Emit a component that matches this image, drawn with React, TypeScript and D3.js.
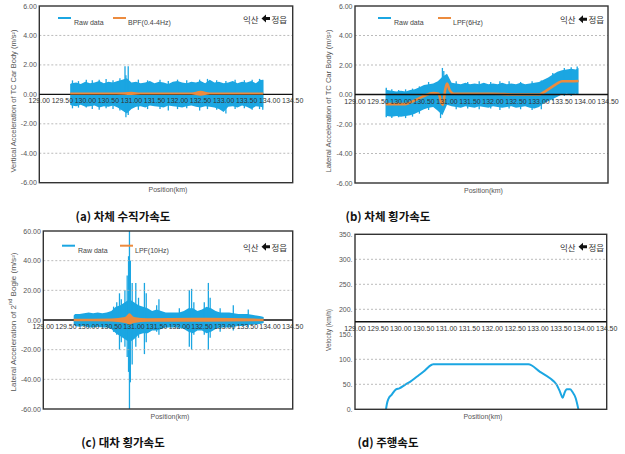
import React from 'react';
import * as d3 from 'd3';

const W = 625;
const H = 454;

// x axis (km)
const xTicks = [129.0, 129.5, 130.0, 130.5, 131.0, 131.5, 132.0, 132.5, 133.0, 133.5, 134.0, 134.5];
const accTicks = [-6, -4, -2, 0, 2, 4, 6];
const bogieTicks = [-60, -40, -20, 0, 20, 40, 60];
const velTicks = [0, 50, 100, 150, 200, 250, 300, 350];

// raw-data envelopes, read at these positions
const envKm = [129.67, 129.7, 129.8, 129.9, 130.0, 130.1, 130.2, 130.3, 130.4, 130.5, 130.6, 130.7, 130.8, 130.9, 131.0,
  131.1, 131.2, 131.3, 131.4, 131.5, 131.6, 131.7, 131.8, 131.9, 132.0, 132.1, 132.2, 132.3, 132.4, 132.5, 132.6,
  132.7, 132.8, 132.9, 133.0, 133.1, 133.2, 133.3, 133.4, 133.5, 133.6, 133.7, 133.8, 133.86];

// (a) vertical acceleration, car body
const vertHi = [0.7, 0.75, 0.8, 0.7, 0.85, 0.75, 0.8, 0.9, 0.75, 0.85, 0.8, 0.9, 1.0, 1.1, 0.8, 0.85, 0.75, 0.8, 0.9, 0.75,
  0.85, 0.8, 0.7, 0.85, 0.9, 0.8, 0.75, 0.85, 0.8, 0.9, 0.75, 1.0, 0.8, 0.85, 0.75, 0.8, 0.9, 0.75, 0.85, 0.8, 0.9, 0.75, 1.0, 0.95];
const vertLo = [-0.7, -0.75, -0.8, -0.7, -0.85, -0.8, -0.75, -0.9, -0.8, -0.85, -0.75, -0.9, -1.1, -1.3, -1.0, -0.85, -0.8,
  -0.9, -0.75, -0.8, -0.85, -0.9, -0.75, -0.8, -0.85, -0.9, -0.8, -0.75, -0.85, -0.9, -0.8, -0.85, -0.9, -1.0, -1.2, -0.85,
  -0.8, -0.9, -0.75, -0.85, -1.0, -0.8, -0.85, -0.9];
const vertSpikeKm = [129.72, 129.85, 130.02, 130.15, 130.3, 130.45, 130.6, 130.75, 130.86, 130.88, 130.93, 131.15, 131.35,
  131.62, 131.8, 132.0, 132.2, 132.48, 132.65, 132.85, 133.05, 133.25, 133.45, 133.62, 133.78, 133.85];
const vertSpikeHi = [0.95, 0.9, 1.0, 0.95, 1.0, 1.05, 0.95, 1.1, 1.9, 1.3, 1.9, 1.0, 0.95, 1.0, 0.9, 1.0, 0.95, 1.0, 1.05,
  0.95, 0.9, 1.0, 0.95, 1.0, 1.05, 1.0];
const vertSpikeLo = [-0.95, -0.9, -0.9, -1.0, -1.05, -0.95, -1.0, -1.1, -1.2, -1.55, -1.4, -1.05, -1.0, -1.0, -1.1, -1.0,
  -0.95, -1.1, -1.0, -1.05, -1.3, -1.0, -0.95, -1.05, -1.0, -1.05];
const bpfKm = [129.67, 130.5, 130.85, 131.0, 131.2, 132.3, 132.5, 132.7, 133.86];
const bpfHi = [0.12, 0.12, 0.15, 0.18, 0.12, 0.12, 0.25, 0.12, 0.12];
const bpfLo = [0.0, 0.0, -0.03, -0.05, 0.0, 0.0, -0.1, 0.0, 0.0];

// (b) lateral acceleration, car body
const latHi = [0.4, 0.3, 0.25, 0.2, 0.25, 0.2, 0.3, 0.35, 0.5, 0.65, 0.7, 0.75, 0.9, 1.2, 1.4, 0.8, 0.75, 0.7, 0.8, 0.7,
  0.75, 0.7, 0.8, 0.7, 0.75, 0.7, 0.8, 0.7, 0.75, 0.7, 0.8, 0.7, 0.75, 0.8, 0.85, 1.0, 1.15, 1.35, 1.55, 1.65, 1.7, 1.75, 1.7, 1.8];
const latLo = [-1.5, -1.45, -1.5, -1.45, -1.5, -1.45, -1.4, -1.3, -1.15, -1.0, -0.9, -0.85, -1.1, -1.4, -0.7, -0.8, -0.85,
  -0.9, -0.8, -0.85, -0.9, -0.8, -0.85, -0.9, -0.8, -0.85, -0.9, -0.85, -0.8, -0.9, -0.85, -0.8, -0.9, -0.95, -0.85, -0.6,
  -0.45, -0.3, -0.15, 0.0, 0.05, 0.0, 0.05, 0.0];
const latSpikeKm = [129.68, 129.8, 129.95, 130.1, 130.25, 130.4, 130.6, 130.86, 130.9, 130.93, 131.0, 131.2, 131.45, 131.7,
  131.95, 132.15, 132.35, 132.6, 132.85, 133.05, 133.3, 133.55, 133.7, 133.83];
const latSpikeHi = [0.45, 0.35, 0.3, 0.35, 0.4, 0.55, 0.85, 0.3, 1.8, 1.6, 1.2, 0.9, 0.85, 0.9, 0.85, 0.9, 0.9, 0.85, 0.9,
  0.95, 1.45, 1.8, 1.85, 1.9];
const latSpikeLo = [-1.55, -1.6, -1.55, -1.6, -1.5, -1.3, -1.05, -1.6, -1.2, -0.5, -0.3, -1.0, -0.95, -1.0, -0.95, -1.05,
  -0.95, -1.0, -1.05, -1.0, -0.4, -0.1, -0.1, 0.0];
const lpf6Km = [129.67, 130.1, 130.2, 130.3, 130.4, 130.5, 130.7, 130.82, 130.87, 130.91, 130.96, 131.0, 131.05, 131.15,
  131.5, 132.0, 132.5, 133.0, 133.1, 133.2, 133.3, 133.4, 133.5, 133.7, 133.86];
const lpf6 = [-0.65, -0.65, -0.55, -0.4, -0.25, -0.1, 0.1, 0.05, -0.5, -0.7, 0.3, 0.75, 0.35, 0.05, 0.05, 0.05, 0.0, 0.0,
  0.15, 0.35, 0.55, 0.75, 0.9, 0.9, 0.92];

// (c) lateral acceleration, 2nd bogie
const bogHi = [3, 4, 4, 4.5, 5, 4.5, 5, 4.5, 5, 6, 9, 10, 12, 14, 12, 10, 9, 8, 6, 7, 6, 5, 5, 5, 5, 6, 8, 8, 6, 7, 9, 8,
  6, 5, 5, 5, 4.5, 4, 4, 4, 3.5, 3, 2.5, 2];
const bogLo = [-3, -4, -4.5, -4, -5, -5, -4.5, -5, -5, -6, -9, -11, -13, -15, -13, -10, -9, -9, -7, -7, -6, -5, -5, -5, -5,
  -6, -8, -9, -7, -7, -9, -8, -6, -5, -5, -5, -4.5, -4, -4, -3.5, -3, -3, -2.5, -2];
const bogSpikeKm = [130.55, 130.62, 130.68, 130.72, 130.8, 130.85, 130.88, 130.9, 130.92, 130.96, 131.04, 131.1, 131.23,
  131.27, 131.5, 131.55, 132.0, 132.22, 132.27, 132.32, 132.55, 132.64, 132.68, 132.9, 133.19, 133.52];
const bogSpikeHi = [9, 12, 18, 14, 20, 30, 43, 60, 40, 25, 25, 15, 25, 18, 10, 14, 8, 20, 21, 12, 12, 25, 15, 8, 10, 7];
const bogSpikeLo = [-8, -10, -20, -15, -18, -25, -35, -60, -42, -30, -18, -12, -23, -15, -8, -10, -6, -18, -20, -10, -10,
  -20, -12, -8, -7, -5];
const lpf10Km = [129.67, 130.5, 130.8, 130.9, 131.0, 131.3, 132.3, 132.6, 133.86];
const lpf10Hi = [0.8, 1.0, 2, 4.5, 2, 1.2, 1.5, 1.5, 0.8];
const lpf10Lo = [-0.8, -1, -2, -3, -2, -1.2, -1.2, -1.2, -0.8];

// (d) running speed
const velKm = [129.677, 129.7, 129.736, 129.8, 129.896, 129.969, 130.093, 130.202, 130.348, 130.493, 130.676, 130.712,
  132.788, 133.043, 133.262, 133.407, 133.48, 133.539, 133.575, 133.626, 133.699, 133.75, 133.823, 133.881];
const vel = [0, 12, 22, 29, 40, 42, 49, 55, 65, 75, 89, 90, 90, 75, 62, 49, 35, 23, 32, 40, 40, 35, 22, 0];

const BLUE = '#1ba6e2';
const ORANGE = '#ec8b3e';
const SANS = '"Liberation Sans", Arial, sans-serif';
const KR = '"Noto Sans CJK KR", sans-serif';

type Box = { left: number; right: number; top: number; bottom: number };

function Direction({ x, y }: { x: number; y: number }) {
  const ax = x + 18.5;
  const pts = [[ax, y], [ax + 4.5, y - 4], [ax + 4.5, y - 1.5], [ax + 8.5, y - 1.5], [ax + 8.5, y + 1.5], [ax + 4.5, y + 1.5], [ax + 4.5, y + 4]];
  return (
    <g fontFamily={KR} fontSize={8.5} fill="#333">
      <text x={x} y={y} dominantBaseline="central">익산</text>
      <polygon points={pts.map(p => p.join(',')).join(' ')} fill="#111" />
      <text x={ax + 10} y={y} dominantBaseline="central">정읍</text>
    </g>
  );
}

function Legend({ x, y, label2, gap }: { x: number; y: number; label2: string; gap: number }) {
  return (
    <g fontFamily={SANS} fontSize={7} fill="#444">
      <line x1={x} x2={x + 13} y1={y} y2={y} stroke={BLUE} strokeWidth={2} />
      <text x={x + 16} y={y + 7}>Raw data</text>
      <line x1={x + gap} x2={x + gap + 13} y1={y} y2={y} stroke={ORANGE} strokeWidth={2} />
      <text x={x + gap + 15} y={y + 7}>{label2}</text>
    </g>
  );
}

function Frame({ box, y, ticks, fmt, axisValue, skipGrid, yLabel, yLabelX, yLabelLen, yLabelY }: {
  box: Box; y: d3.ScaleLinear<number, number>; ticks: number[]; fmt: (v: number) => string; axisValue: number;
  skipGrid: number[]; yLabel: React.ReactNode; yLabelX: number; yLabelLen: number; yLabelY: number;
}) {
  const x = d3.scaleLinear().domain([129, 134.5]).range([box.left, box.right]);
  const ay = y(axisValue);
  const ylim = y.domain();
  return (
    <g>
      {ticks.filter(t => t !== ylim[0] && t !== ylim[1] && t !== axisValue && !skipGrid.includes(t)).map(t => (
        <line key={t} x1={box.left} x2={box.right} y1={y(t)} y2={y(t)} stroke="#aaa" strokeWidth={0.8} strokeDasharray="2,2" />
      ))}
      <rect x={box.left} y={box.top} width={box.right - box.left} height={box.bottom - box.top} fill="none" stroke="#333" strokeWidth={1.4} />
      <g fontFamily={SANS} fontSize={7} fill="#555" textAnchor="end">
        {ticks.map(t => (
          <text key={t} x={box.left - 2.5} y={y(t)} dominantBaseline="central">{fmt(t)}</text>
        ))}
      </g>
      <text transform={`translate(${yLabelX},${yLabelY}) rotate(-90)`} textAnchor="middle" dominantBaseline="central"
        fontFamily={SANS} fontSize={7} fill="#555" textLength={yLabelLen} lengthAdjust="spacingAndGlyphs">{yLabel}</text>
      <text x={(box.left + box.right) / 2 + 2} y={box.bottom + 9.5} textAnchor="middle" fontFamily={SANS} fontSize={7} fill="#555">Position(km)</text>
      <line x1={box.left} x2={box.right} y1={ay} y2={ay} stroke="#111" strokeWidth={1.4} />
      <g fontFamily={SANS} fontSize={7} fill="#333" textAnchor="middle">
        {xTicks.map(t => (
          <text key={t} x={x(t)} y={ay + 6.5} dominantBaseline="central">{t.toFixed(2)}</text>
        ))}
      </g>
    </g>
  );
}

function Raw({ x, y, hi, lo, sk, sh, sl }: {
  x: d3.ScaleLinear<number, number>; y: d3.ScaleLinear<number, number>; hi: number[]; lo: number[]; sk: number[]; sh: number[]; sl: number[];
}) {
  const area = d3.area<number>().x((_, i) => x(envKm[i])).y0((_, i) => y(lo[i])).y1(d => y(d));
  return (
    <g>
      <path d={area(hi) || ''} fill={BLUE} />
      {sk.map((k, i) => (
        <line key={i} x1={x(k)} x2={x(k)} y1={y(sh[i])} y2={y(sl[i])} stroke={BLUE} strokeWidth={1.3} />
      ))}
    </g>
  );
}

function Band({ x, y, km, hi, lo }: { x: d3.ScaleLinear<number, number>; y: d3.ScaleLinear<number, number>; km: number[]; hi: number[]; lo: number[] }) {
  const area = d3.area<number>().x((_, i) => x(km[i])).y0((_, i) => Math.max(y(lo[i]), y(hi[i]) + 2)).y1(d => y(d)).curve(d3.curveMonotoneX);
  return <path d={area(hi) || ''} fill={ORANGE} />;
}

export default function App() {
  const boxA: Box = { left: 39.3, right: 292.7, top: 6, bottom: 182.7 };
  const boxB: Box = { left: 355, right: 608, top: 6, bottom: 183 };
  const boxC: Box = { left: 43.3, right: 292.7, top: 231, bottom: 409 };
  const boxD: Box = { left: 355, right: 606.7, top: 234.3, bottom: 409.3 };

  const xA = d3.scaleLinear().domain([129, 134.5]).range([boxA.left, boxA.right]);
  const yA = d3.scaleLinear().domain([-6, 6]).range([boxA.bottom, boxA.top]);
  const xB = d3.scaleLinear().domain([129, 134.5]).range([boxB.left, boxB.right]);
  const yB = d3.scaleLinear().domain([-6, 6]).range([boxB.bottom, boxB.top]);
  const xC = d3.scaleLinear().domain([129, 134.5]).range([boxC.left, boxC.right]);
  const yC = d3.scaleLinear().domain([-60, 60]).range([boxC.bottom, boxC.top]);
  const xD = d3.scaleLinear().domain([129, 134.5]).range([boxD.left, boxD.right]);
  const yD = d3.scaleLinear().domain([0, 350]).range([boxD.bottom, boxD.top]);

  const accFmt = (v: number) => v.toFixed(2);
  const lpfLine = d3.line<number>().x((_, i) => xB(lpf6Km[i])).y(d => yB(d)).curve(d3.curveMonotoneX);
  const velLine = d3.line<number>().x((_, i) => xD(velKm[i])).y(d => yD(d)).curve(d3.curveMonotoneX);

  return (
    <div style={{ position: 'absolute', left: 0, top: 0 }}>
      <svg width={W} height={H} style={{ display: 'block', background: '#fff' }}>
        {/* (a) */}
        <Raw x={xA} y={yA} hi={vertHi} lo={vertLo} sk={vertSpikeKm} sh={vertSpikeHi} sl={vertSpikeLo} />
        <Frame box={boxA} y={yA} ticks={accTicks} fmt={accFmt} axisValue={0} skipGrid={[]}
          yLabel="Vertical Acceleration of TC Car Body (m/s²)" yLabelX={13} yLabelY={101} yLabelLen={143} />
        <Band x={xA} y={yA} km={bpfKm} hi={bpfHi} lo={bpfLo} />
        <Legend x={58} y={18} label2="BPF(0.4-4Hz)" gap={55} />
        <Direction x={243} y={18.5} />

        {/* (b) */}
        <Raw x={xB} y={yB} hi={latHi} lo={latLo} sk={latSpikeKm} sh={latSpikeHi} sl={latSpikeLo} />
        <path d={lpfLine(lpf6) || ''} fill="none" stroke={ORANGE} strokeWidth={2.6} />
        <Frame box={boxB} y={yB} ticks={accTicks} fmt={accFmt} axisValue={0} skipGrid={[]}
          yLabel="Lateral Acceleration of TC Car Body (m/s²)" yLabelX={328} yLabelY={101} yLabelLen={143} />
        <Legend x={378} y={18} label2="LPF(6Hz)" gap={60} />
        <Direction x={560} y={19.3} />

        {/* (c) */}
        <Raw x={xC} y={yC} hi={bogHi} lo={bogLo} sk={bogSpikeKm} sh={bogSpikeHi} sl={bogSpikeLo} />
        <Frame box={boxC} y={yC} ticks={bogieTicks} fmt={accFmt} axisValue={0} skipGrid={[]}
          yLabel={<>Lateral Acceleration of 2<tspan fontSize={5} dy={-3}>nd</tspan><tspan dy={3}> Bogie (m/s²)</tspan></>}
          yLabelX={13} yLabelY={322} yLabelLen={139} />
        <Band x={xC} y={yC} km={lpf10Km} hi={lpf10Hi} lo={lpf10Lo} />
        <Legend x={62} y={245.7} label2="LPF(10Hz)" gap={58} />
        <Direction x={243} y={246.7} />

        {/* (d) */}
        <path d={velLine(vel) || ''} fill="none" stroke={BLUE} strokeWidth={2} />
        <Frame box={boxD} y={yD} ticks={velTicks} fmt={v => `${v}.`} axisValue={175} skipGrid={[150]}
          yLabel="Velocity (km/h)" yLabelX={328} yLabelY={330} yLabelLen={42} />
        <Direction x={560} y={246.7} />

        {/* captions */}
        <g fontFamily={KR} fontWeight="bold" fontSize={11.5} fill="#111" textAnchor="middle">
          <text x={123} y={215.7} dominantBaseline="central">(a) 차체 수직가속도</text>
          <text x={388} y={215.7} dominantBaseline="central">(b) 차체 횡가속도</text>
          <text x={123} y={441.7} dominantBaseline="central">(c) 대차 횡가속도</text>
          <text x={388} y={441.7} dominantBaseline="central">(d) 주행속도</text>
        </g>
      </svg>
    </div>
  );
}
